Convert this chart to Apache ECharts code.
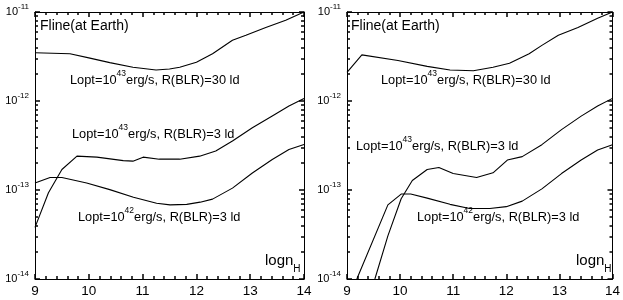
<!DOCTYPE html>
<html><head><meta charset="utf-8">
<script src="https://cdn.jsdelivr.net/npm/echarts@6/dist/echarts.min.js"></script>
<style>html,body{margin:0;padding:0;background:#fff}#c{width:623px;height:300px}</style>
</head><body><div id="c"></div>
<script>
// ---- tick values ----
const xTickValues = [9, 10, 11, 12, 13, 14];
const yTickValues = [1e-14, 1e-13, 1e-12, 1e-11];
const yMinorTickValues = [2e-14,3e-14,4e-14,5e-14,6e-14,7e-14,8e-14,9e-14,
                          2e-13,3e-13,4e-13,5e-13,6e-13,7e-13,8e-13,9e-13,
                          2e-12,3e-12,4e-12,5e-12,6e-12,7e-12,8e-12,9e-12];

// ---- left panel data (log n_H, Fline) ----
const leftX_43_30 = [9, 9.65, 10, 10.39, 10.82, 11.25, 11.5, 11.69, 12, 12.3, 12.67, 12.92, 13.29, 13.66, 14];
const leftY_43_30 = [3.48e-12, 3.39e-12, 3.05e-12, 2.70e-12, 2.39e-12, 2.23e-12, 2.29e-12, 2.39e-12, 2.73e-12, 3.39e-12, 4.81e-12, 5.48e-12, 6.7e-12, 8.1e-12, 1.0e-11];
const leftX_43_3 = [9, 9.25, 9.5, 9.78, 10.15, 10.64, 10.82, 11.01, 11.31, 11.69, 12.06, 12.36, 12.67, 13.04, 13.41, 13.72, 14];
const leftY_43_3 = [3.8e-14, 9.3e-14, 1.7e-13, 2.4e-13, 2.34e-13, 2.14e-13, 2.11e-13, 2.34e-13, 2.22e-13, 2.22e-13, 2.4e-13, 2.74e-13, 3.55e-13, 5.0e-13, 6.8e-13, 8.8e-13, 1.07e-12];
const leftX_42_3 = [9, 9.28, 9.5, 9.96, 10.39, 10.83, 11.26, 11.51, 11.82, 12.07, 12.3, 12.67, 13.04, 13.41, 13.72, 14];
const leftY_42_3 = [1.2e-13, 1.38e-13, 1.38e-13, 1.2e-13, 1.01e-13, 8.3e-14, 7.1e-14, 6.8e-14, 6.9e-14, 7.3e-14, 7.9e-14, 1.05e-13, 1.55e-13, 2.2e-13, 2.85e-13, 3.25e-13];

// ---- right panel data ----
const rightX_43_30 = [9, 9.28, 9.96, 10.51, 10.94, 11.38, 11.75, 12.06, 12.43, 12.67, 12.98, 13.35, 13.72, 14];
const rightY_43_30 = [2.1e-12, 3.3e-12, 2.85e-12, 2.45e-12, 2.23e-12, 2.19e-12, 2.39e-12, 2.65e-12, 3.39e-12, 4.22e-12, 5.48e-12, 6.7e-12, 8.5e-12, 1.0e-11];
const rightX_43_3 = [9.525, 9.77, 10.02, 10.23, 10.51, 10.73, 11.0, 11.44, 11.75, 12.02, 12.3, 12.67, 13.04, 13.41, 13.72, 14];
const rightY_43_3 = [1e-14, 3.05e-14, 7.97e-14, 1.28e-13, 1.7e-13, 1.79e-13, 1.53e-13, 1.38e-13, 1.56e-13, 2.17e-13, 2.37e-13, 3.23e-13, 4.77e-13, 6.76e-13, 8.77e-13, 1.07e-12];
const rightX_42_3 = [9.185, 9.77, 10.02, 10.2, 10.51, 10.94, 11.31, 11.69, 12.0, 12.3, 12.67, 13.04, 13.41, 13.72, 14];
const rightY_42_3 = [1e-14, 6.8e-14, 9e-14, 9e-14, 8.1e-14, 6.9e-14, 6.2e-14, 6.2e-14, 6.5e-14, 7.5e-14, 1.03e-13, 1.53e-13, 2.17e-13, 2.82e-13, 3.23e-13];

// ---- texts ----
const panelTitle = 'Fline(at Earth)';
const curveLabels = [
  ['Lopt=10', '43', 'erg/s, R(BLR)=30 ld'],
  ['Lopt=10', '43', 'erg/s, R(BLR)=3 ld'],
  ['Lopt=10', '42', 'erg/s, R(BLR)=3 ld']
];
const xAxisTitle = ['logn', 'H'];

const FONT = '"Liberation Sans", Arial, Helvetica, sans-serif';
const BLACK = '#000';
const TICK_W = 1.5;
const zip = (xs, ys) => xs.map((x, i) => [x, ys[i]]);

function xAxes(g) {
  const mk = (pos, showLabel) => ({
    type: 'value', gridIndex: g, min: 9, max: 14, interval: 1, position: pos,
    axisLine: {show: true, onZero: false, lineStyle: {color: BLACK, width: 1}},
    axisTick: {show: true, inside: true, length: 5, lineStyle: {color: BLACK, width: TICK_W}},
    minorTick: {show: true, splitNumber: 5, length: 3, lineStyle: {color: BLACK, width: TICK_W}},
    splitLine: {show: false}, minorSplitLine: {show: false},
    axisLabel: showLabel
      ? {show: true, color: BLACK, fontSize: 13.5, fontFamily: FONT, margin: 5}
      : {show: false}
  });
  return [mk('bottom', true), mk('top', false)];
}
function yAxes(g) {
  const lbl = {
    show: true, customValues: yTickValues, margin: 6,
    formatter: v => '{b|10}{s|' + Math.round(Math.log10(v)) + '}',
    rich: {
      b: {fontSize: 11, fontFamily: FONT, color: BLACK, lineHeight: 18},
      s: {fontSize: 8, fontFamily: FONT, color: BLACK, lineHeight: 8, verticalAlign: 'top'}
    }
  };
  const mk = (pos, major, showLine, label) => ({
    type: 'log', logBase: 10, gridIndex: g, min: 1e-14, max: 1e-11, position: pos,
    splitLine: {show: false}, minorTick: {show: false},
    axisLine: {show: showLine, lineStyle: {color: BLACK, width: 1}},
    axisTick: {show: true, inside: true, length: major ? 5 : 3,
      customValues: major ? yTickValues : yMinorTickValues, lineStyle: {color: BLACK, width: TICK_W}},
    axisLabel: label || {show: false}
  });
  return [mk('left', true, true, lbl), mk('right', true, true, null),
          mk('left', false, false, null), mk('right', false, false, null)];
}
function line(xi, yi, xs, ys) {
  return {type: 'line', xAxisIndex: xi, yAxisIndex: yi, data: zip(xs, ys),
    symbol: 'none', showSymbol: false, clip: true, silent: true,
    lineStyle: {color: BLACK, width: 1.1}};
}
function richLabel(parts, x, y) {
  return {type: 'text', x: x, y: y, silent: true, style: {
    text: '{a|' + parts[0] + '}{s|' + parts[1] + '}{a|' + parts[2] + '}',
    verticalAlign: 'middle', align: 'left',
    rich: {
      a: {fontSize: 12.8, fontFamily: FONT, fill: BLACK, lineHeight: 22},
      s: {fontSize: 8.5, fontFamily: FONT, fill: BLACK, lineHeight: 8, verticalAlign: 'top'}
    }
  }};
}
function title(x, y) {
  return {type: 'text', x: x, y: y, silent: true, style: {text: panelTitle, fontSize: 14, fontFamily: FONT, fill: BLACK, verticalAlign: 'middle'}};
}
function xTitle(x, y) {
  return {type: 'text', x: x, y: y, silent: true, style: {
    text: '{a|' + xAxisTitle[0] + '}{s|' + xAxisTitle[1] + '}', verticalAlign: 'middle',
    rich: {
      a: {fontSize: 15, fontFamily: FONT, fill: BLACK, lineHeight: 28},
      s: {fontSize: 10, fontFamily: FONT, fill: BLACK, lineHeight: 10, verticalAlign: 'bottom'}
    }
  }};
}

const option = {
  animation: false,
  backgroundColor: '#fff',
  grid: [
    {left: 35, top: 12, width: 269, height: 267},
    {left: 347, top: 12, width: 269, height: 267}
  ],
  xAxis: [].concat(xAxes(0), xAxes(1)),
  yAxis: [].concat(yAxes(0), yAxes(1)),
  series: [
    line(0, 0, leftX_43_30, leftY_43_30),
    line(0, 0, leftX_43_3, leftY_43_3),
    line(0, 0, leftX_42_3, leftY_42_3),
    line(2, 4, rightX_43_30, rightY_43_30),
    line(2, 4, rightX_43_3, rightY_43_3),
    line(2, 4, rightX_42_3, rightY_42_3)
  ],
  graphic: [
    title(40, 26), title(351, 26),
    richLabel(curveLabels[0], 70, 80),
    richLabel(curveLabels[1], 72, 134),
    richLabel(curveLabels[2], 78, 217.5),
    richLabel(curveLabels[0], 381, 80.5),
    richLabel(curveLabels[1], 356, 146),
    richLabel(curveLabels[2], 417, 217.5),
    xTitle(265, 260.5), xTitle(576, 260.5)
  ]
};
const chart = echarts.init(document.getElementById('c'), null, {renderer: 'canvas'});
chart.setOption(option);
</script>
</body></html>
